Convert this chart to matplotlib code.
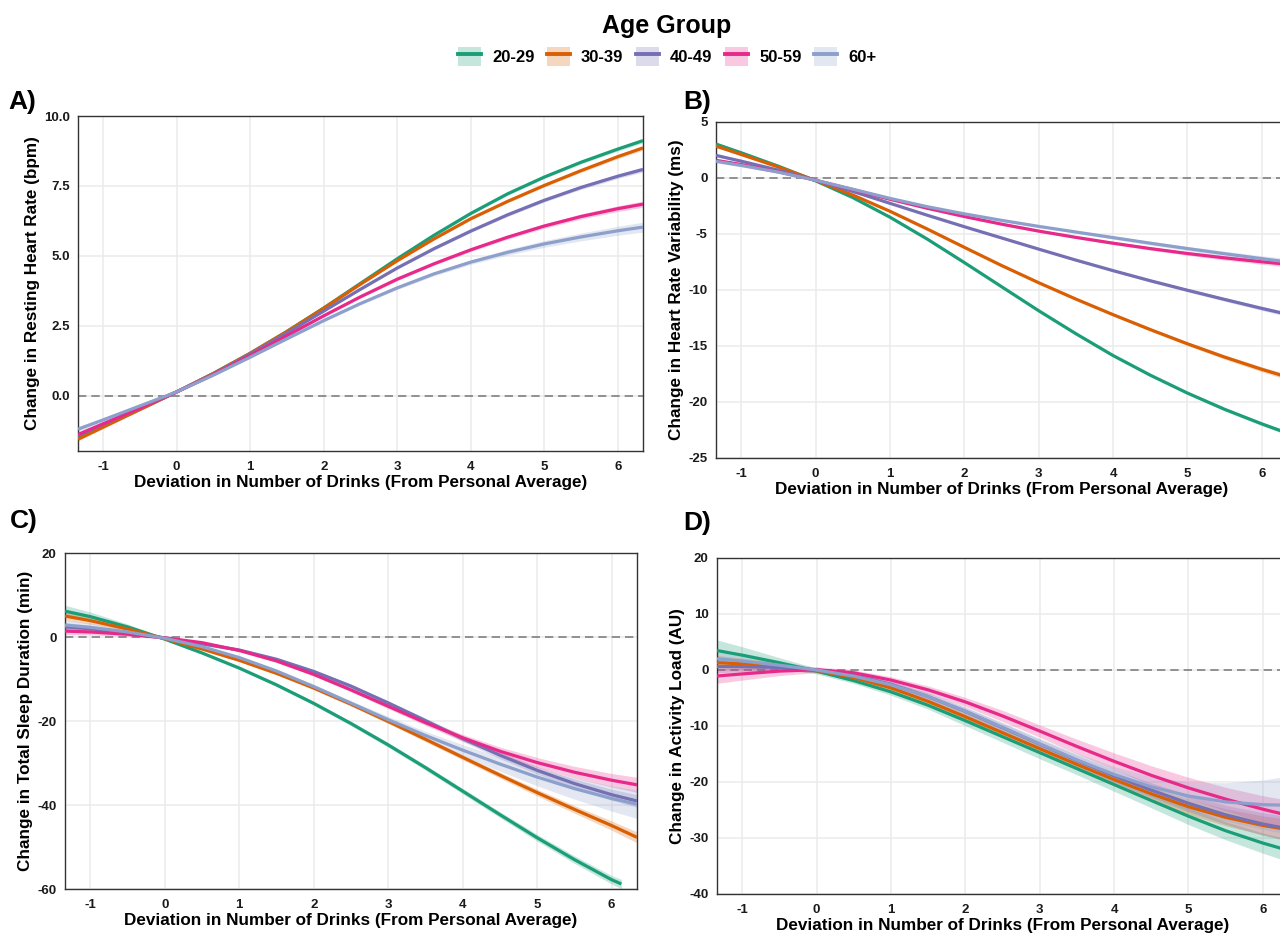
import numpy as np
import matplotlib
matplotlib.use("Agg")
import matplotlib.pyplot as plt
from matplotlib.patches import Patch
from matplotlib.lines import Line2D

plt.rcParams['font.family'] = ['Liberation Sans', 'DejaVu Sans']
plt.rcParams['font.weight'] = 'bold'
plt.rcParams['axes.unicode_minus'] = False

# ── DATA ─────────────────────────────────────────────────────────────────────
AGE_GROUPS = ["20-29", "30-39", "40-49", "50-59", "60+"]
COLORS = ["#1B9E77", "#D95F02", "#7570B3", "#E7298A", "#8DA0CB"]

DRINKS = [-1.34, -1, -0.5, 0, 0.5, 1, 1.5, 2, 2.5, 3, 3.5, 4, 4.5, 5, 5.5, 6, 6.34]
# green curve in panel C stops short of the axis edge
DRINKS_TST_2029 = [-1.34, -1, -0.5, 0, 0.5, 1, 1.5, 2, 2.5, 3, 3.5, 4, 4.5, 5, 5.5, 6, 6.13]

# A) resting heart rate (bpm)
RHR_FIT = [
    [-1.50, -1.09, -0.48, 0.14, 0.80, 1.52, 2.30, 3.14, 4.02, 4.90, 5.74, 6.52, 7.22, 7.82, 8.35, 8.82, 9.12],
    [-1.55, -1.12, -0.49, 0.14, 0.80, 1.52, 2.30, 3.13, 3.99, 4.83, 5.61, 6.33, 6.95, 7.52, 8.05, 8.55, 8.86],
    [-1.41, -1.02, -0.44, 0.14, 0.78, 1.49, 2.25, 3.03, 3.81, 4.57, 5.26, 5.89, 6.47, 6.99, 7.45, 7.85, 8.09],
    [-1.38, -1.00, -0.44, 0.14, 0.76, 1.44, 2.15, 2.86, 3.54, 4.17, 4.72, 5.22, 5.67, 6.07, 6.41, 6.69, 6.85],
    [-1.19, -0.86, -0.36, 0.14, 0.74, 1.38, 2.04, 2.69, 3.30, 3.86, 4.36, 4.78, 5.13, 5.43, 5.68, 5.90, 6.03],
]
RHR_CI = [
    [0.06, 0.05, 0.04, 0.03, 0.03, 0.03, 0.03, 0.03, 0.03, 0.04, 0.04, 0.04, 0.05, 0.05, 0.06, 0.07, 0.08],
    [0.06, 0.05, 0.04, 0.03, 0.03, 0.03, 0.03, 0.03, 0.03, 0.04, 0.04, 0.04, 0.05, 0.05, 0.06, 0.07, 0.08],
    [0.07, 0.06, 0.04, 0.03, 0.03, 0.03, 0.03, 0.03, 0.04, 0.04, 0.05, 0.05, 0.06, 0.06, 0.07, 0.08, 0.09],
    [0.07, 0.06, 0.04, 0.03, 0.03, 0.03, 0.03, 0.04, 0.04, 0.05, 0.05, 0.06, 0.07, 0.08, 0.09, 0.10, 0.11],
    [0.09, 0.07, 0.05, 0.03, 0.03, 0.03, 0.04, 0.04, 0.05, 0.06, 0.07, 0.08, 0.10, 0.12, 0.14, 0.16, 0.18],
]

# B) heart rate variability (ms)
HRV_FIT = [
    [3.03, 2.25, 1.05, -0.25, -1.75, -3.50, -5.45, -7.55, -9.70, -11.85, -13.90, -15.85, -17.60, -19.20, -20.65, -21.95, -22.77],
    [2.85, 2.10, 0.98, -0.22, -1.52, -2.97, -4.55, -6.19, -7.81, -9.35, -10.81, -12.20, -13.53, -14.80, -15.99, -17.08, -17.76],
    [2.02, 1.50, 0.70, -0.20, -1.20, -2.26, -3.32, -4.35, -5.35, -6.35, -7.33, -8.27, -9.17, -10.02, -10.84, -11.64, -12.16],
    [1.58, 1.20, 0.55, -0.20, -1.04, -1.90, -2.70, -3.44, -4.12, -4.74, -5.30, -5.82, -6.30, -6.74, -7.13, -7.48, -7.70],
    [1.49, 1.12, 0.52, -0.20, -1.00, -1.82, -2.56, -3.20, -3.78, -4.32, -4.82, -5.32, -5.82, -6.30, -6.76, -7.20, -7.49],
]
HRV_CI = [
    [0.15, 0.12, 0.08, 0.05, 0.05, 0.05, 0.06, 0.06, 0.07, 0.08, 0.09, 0.10, 0.11, 0.12, 0.14, 0.16, 0.18],
    [0.14, 0.11, 0.08, 0.05, 0.05, 0.05, 0.06, 0.07, 0.08, 0.09, 0.10, 0.12, 0.14, 0.16, 0.19, 0.22, 0.25],
    [0.12, 0.10, 0.07, 0.05, 0.05, 0.05, 0.06, 0.06, 0.07, 0.08, 0.09, 0.10, 0.12, 0.14, 0.16, 0.18, 0.20],
    [0.12, 0.10, 0.07, 0.05, 0.05, 0.05, 0.06, 0.07, 0.08, 0.09, 0.10, 0.12, 0.14, 0.16, 0.19, 0.22, 0.25],
    [0.14, 0.11, 0.08, 0.05, 0.05, 0.06, 0.07, 0.08, 0.09, 0.10, 0.12, 0.14, 0.16, 0.19, 0.22, 0.26, 0.30],
]

# C) total sleep duration (min)
TST_FIT = [
    [6.15, 4.85, 2.4, -0.5, -3.8, -7.4, -11.4, -15.8, -20.6, -25.7, -31.1, -36.7, -42.3, -47.8, -53.0, -57.8, -58.8],
    [5.0, 3.9, 1.9, -0.4, -2.85, -5.55, -8.65, -12.15, -16.0, -20.1, -24.35, -28.65, -32.9, -37.05, -41.05, -44.9, -47.7],
    [2.43, 1.95, 1.0, -0.2, -1.65, -3.1, -5.3, -8.2, -11.7, -15.7, -19.9, -24.2, -28.15, -31.75, -34.9, -37.55, -39.05],
    [1.4, 1.2, 0.65, -0.2, -1.35, -3.2, -5.7, -8.9, -12.6, -16.5, -20.4, -24.0, -27.2, -29.9, -32.2, -34.1, -35.2],
    [2.84, 2.3, 1.2, -0.3, -2.3, -4.9, -8.1, -11.8, -15.75, -19.7, -23.45, -26.95, -30.25, -33.35, -36.1, -38.45, -39.8],
]
TST_CI = [
    [1.4, 1.1, 0.7, 0.3, 0.3, 0.35, 0.4, 0.45, 0.5, 0.55, 0.6, 0.65, 0.7, 0.8, 0.9, 1.0, 1.1],
    [1.0, 0.8, 0.5, 0.3, 0.3, 0.3, 0.35, 0.4, 0.45, 0.5, 0.55, 0.6, 0.7, 0.8, 0.9, 1.1, 1.3],
    [1.0, 0.8, 0.5, 0.3, 0.3, 0.3, 0.35, 0.4, 0.45, 0.5, 0.6, 0.7, 0.8, 0.9, 1.1, 1.3, 1.5],
    [0.9, 0.7, 0.5, 0.3, 0.3, 0.3, 0.35, 0.4, 0.45, 0.55, 0.65, 0.8, 1.0, 1.2, 1.4, 1.6, 1.8],
    [1.2, 1.0, 0.6, 0.3, 0.3, 0.35, 0.4, 0.5, 0.6, 0.8, 1.0, 1.3, 1.7, 2.1, 2.5, 3.0, 3.4],
]

# D) activity load (AU)
LOAD_FIT = [
    [3.47, 2.65, 1.3, -0.2, -1.9, -3.9, -6.3, -9.05, -11.9, -14.75, -17.6, -20.45, -23.3, -26.1, -28.7, -30.9, -32.2],
    [1.3, 1.1, 0.65, -0.1, -1.35, -3.2, -5.6, -8.35, -11.2, -14.05, -16.85, -19.55, -22.1, -24.4, -26.3, -27.75, -28.5],
    [0.6, 0.6, 0.45, 0.0, -0.95, -2.55, -4.75, -7.4, -10.3, -13.25, -16.15, -18.9, -21.45, -23.8, -25.85, -27.5, -28.35],
    [-1.07, -0.7, -0.2, 0.05, -0.5, -1.8, -3.55, -5.7, -8.2, -10.9, -13.65, -16.3, -18.8, -21.05, -23.05, -24.85, -25.95],
    [2.0, 1.6, 0.85, 0.0, -1.1, -2.65, -4.75, -7.35, -10.25, -13.2, -16.05, -18.65, -20.85, -22.5, -23.55, -24.05, -24.15],
]
LOAD_CI = [
    [1.9, 1.5, 0.9, 0.5, 0.5, 0.6, 0.7, 0.9, 1.0, 1.1, 1.1, 1.2, 1.3, 1.5, 1.6, 1.8, 2.0],
    [1.3, 1.0, 0.7, 0.4, 0.4, 0.5, 0.6, 0.7, 0.8, 0.9, 1.0, 1.1, 1.2, 1.4, 1.5, 1.7, 1.9],
    [1.1, 0.9, 0.6, 0.4, 0.4, 0.5, 0.6, 0.7, 0.8, 0.9, 1.0, 1.1, 1.3, 1.5, 1.7, 2.0, 2.2],
    [1.3, 1.1, 0.8, 0.5, 0.5, 0.6, 0.7, 0.8, 1.0, 1.1, 1.3, 1.5, 1.7, 1.9, 2.1, 2.4, 2.7],
    [1.2, 1.0, 0.7, 0.5, 0.5, 0.6, 0.7, 0.8, 0.9, 1.0, 1.2, 1.4, 1.8, 2.5, 3.4, 4.4, 5.2],
]

X_TICKS = [-1, 0, 1, 2, 3, 4, 5, 6]
X_LABEL = "Deviation in Number of Drinks (From Personal Average)"

# ── FIGURE ───────────────────────────────────────────────────────────────────
fig = plt.figure(figsize=(12.8, 9.35), dpi=100)
W, H = 1280, 935


def px_axes(left, top, right, bottom):
    return fig.add_axes([left / W, 1 - bottom / H, (right - left) / W, (bottom - top) / H])


panels = [
    dict(ax=px_axes(78, 116, 643, 451), letter="A)", fit=RHR_FIT, ci=RHR_CI,
         ylim=(-1.97, 10), yticks=[0.0, 2.5, 5.0, 7.5, 10.0], fmt="{:.1f}",
         ylabel="Change in Resting Heart Rate (bpm)"),
    dict(ax=px_axes(716, 122, 1287, 458), letter="B)", fit=HRV_FIT, ci=HRV_CI,
         ylim=(-25, 5), yticks=[-25, -20, -15, -10, -5, 0, 5], fmt="{:.0f}",
         ylabel="Change in Heart Rate Variability (ms)"),
    dict(ax=px_axes(65, 553, 637, 889), letter="C)", fit=TST_FIT, ci=TST_CI,
         ylim=(-60, 20), yticks=[-60, -40, -20, 0, 20], fmt="{:.0f}",
         ylabel="Change in Total Sleep Duration (min)"),
    dict(ax=px_axes(717, 558, 1288, 894), letter="D)", fit=LOAD_FIT, ci=LOAD_CI,
         ylim=(-40, 20), yticks=[-40, -30, -20, -10, 0, 10, 20], fmt="{:.0f}",
         ylabel="Change in Activity Load (AU)"),
]

for p in panels:
    ax = p["ax"]
    ax.axhline(0, color="#808080", lw=1.2, ls=(0, (5, 3)), zorder=1)
    for i, color in enumerate(COLORS):
        xs = DRINKS_TST_2029 if (p["letter"] == "C)" and i == 0) else DRINKS
        fit = np.array(p["fit"][i])
        ci = np.array(p["ci"][i])
        ax.fill_between(xs, fit - ci, fit + ci, color=color, alpha=0.25, lw=0, zorder=2)
    for i, color in enumerate(COLORS):
        xs = DRINKS_TST_2029 if (p["letter"] == "C)" and i == 0) else DRINKS
        ax.plot(xs, p["fit"][i], color=color, lw=2.3, zorder=3, solid_capstyle="butt",
                solid_joinstyle="round")

    ax.set_xlim(-1.34, 6.34)
    ax.set_ylim(*p["ylim"])
    ax.set_xticks(X_TICKS)
    ax.set_xticklabels([str(t) for t in X_TICKS])
    ax.set_yticks(p["yticks"])
    ax.set_yticklabels([p["fmt"].format(t) for t in p["yticks"]])
    ax.tick_params(length=0, labelsize=9.5, colors="#1a1a1a")
    ax.tick_params(axis="x", pad=7)
    ax.tick_params(axis="y", pad=6)
    ax.grid(True, color="#EBEBEB", lw=1.1)
    ax.set_axisbelow(True)
    for s in ax.spines.values():
        s.set_color("#333333")
        s.set_linewidth(1.0)
    ax.set_xlabel(X_LABEL, fontsize=12.3, fontweight="bold", labelpad=1.5)
    ax.set_ylabel(p["ylabel"], fontsize=12.3, fontweight="bold", labelpad=3)

# panel letters
for letter, (lx, ly) in zip(["A)", "B)", "C)", "D)"], [(22, 102), (697, 102), (24, 521), (697, 523)]):
    fig.text(lx / W, 1 - ly / H, letter, fontsize=19, fontweight="bold", ha="center", va="center")

# legend: pale box with the line through it
handles = [(Patch(facecolor=c, alpha=0.25, edgecolor="none"), Line2D([], [], color=c, lw=2.8))
           for c in COLORS]
fig.legend(handles, AGE_GROUPS, loc="upper center", bbox_to_anchor=(667 / W, 1.0),
           ncol=5, frameon=False, title="Age Group",
           title_fontproperties={"weight": "bold", "size": 18},
           prop={"weight": "bold", "size": 12},
           handlelength=1.4, handleheight=1.4, handletextpad=0.65, columnspacing=0.75,
           borderaxespad=0.45, borderpad=0.4)

fig.savefig("out.png", dpi=100)
